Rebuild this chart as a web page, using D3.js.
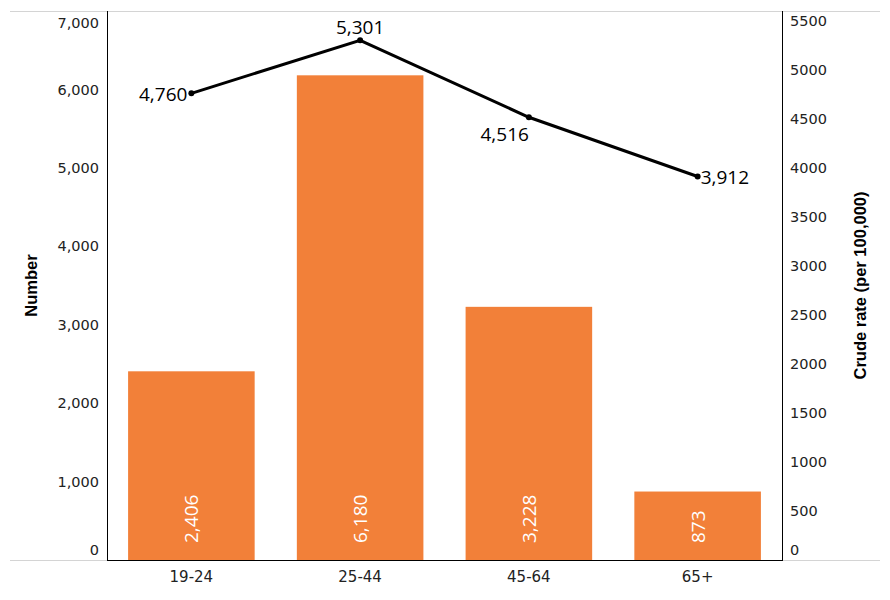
<!DOCTYPE html>
<html>
<head>
<meta charset="utf-8">
<script src="https://cdn.jsdelivr.net/npm/d3@7"></script>
<style>
  body { margin: 0; background: #fff; }
</style>
</head>
<body>
<div id="chart-area"></div>
<script>
const categories = ["19-24", "25-44", "45-64", "65+"];
const counts = [2406, 6180, 3228, 873];
const rates = [4760, 5301, 4516, 3912];
const countTicks = [0, 1000, 2000, 3000, 4000, 5000, 6000, 7000];
const rateTicks = [0, 500, 1000, 1500, 2000, 2500, 3000, 3500, 4000, 4500, 5000, 5500];
const countMax = 7000;
const rateMax = 5600;

const W = 890, H = 600;
const plot = { left: 107, right: 782, top: 11, bottom: 560 };

const data = categories.map((c, i) => ({ cat: c, count: counts[i], rate: rates[i] }));

const svg = d3.select("#chart-area")
    .append("svg")
    .attr("width", W)
    .attr("height", H);

const x = d3.scaleBand()
    .domain(categories)
    .range([plot.left, plot.right])
    .paddingInner(0.25)
    .paddingOuter(0.125);

const y = d3.scaleLinear()
    .domain([0, countMax])
    .range([plot.bottom, plot.top]);

const yR = d3.scaleLinear()
    .domain([0, rateMax])
    .range([plot.bottom, plot.top]);

// light frame lines
[plot.top, plot.bottom].forEach(v => {
    svg.append("line")
        .attr("x1", 10).attr("x2", 880)
        .attr("y1", v + 0.5).attr("y2", v + 0.5)
        .attr("stroke", "#d4d4d4");
});

// bars
svg.selectAll("rect.bar")
    .data(data)
    .enter()
    .append("rect")
    .attr("class", "bar")
    .attr("x", d => x(d.cat))
    .attr("y", d => y(d.count))
    .attr("width", x.bandwidth())
    .attr("height", d => plot.bottom - y(d.count))
    .attr("fill", "#f28039");

svg.selectAll("text.bar-label")
    .data(data)
    .enter()
    .append("text")
    .attr("class", "bar-label")
    .attr("transform", d => `translate(${x(d.cat) + x.bandwidth() / 2}, 543) rotate(-90)`)
    .attr("text-anchor", "start")
    .attr("dominant-baseline", "central")
    .attr("font-family", "'Open Sans', sans-serif")
    .attr("font-size", "19px")
    .attr("fill", "#fff")
    .text(d => d3.format(",")(d.count));

// axes
const yAxis = svg.append("g")
    .attr("transform", `translate(${plot.left}, 0)`)
    .call(d3.axisLeft(y).tickValues(countTicks).tickSize(0).tickPadding(8).tickFormat(d3.format(",")));
yAxis.select(".domain").remove();
yAxis.selectAll("text")
    .attr("font-family", "'DejaVu Sans', sans-serif")
    .attr("font-size", "14.5px")
    .attr("fill", "#222");
yAxis.selectAll(".tick").filter(d => d === countMax).select("text").attr("dy", "1.15em");
yAxis.selectAll(".tick").filter(d => d === 0).select("text").attr("dy", "-0.35em");

const yAxisR = svg.append("g")
    .attr("transform", `translate(${plot.right}, 0)`)
    .call(d3.axisRight(yR).tickValues(rateTicks).tickSize(0).tickPadding(8).tickFormat(d3.format("d")));
yAxisR.select(".domain").remove();
yAxisR.selectAll("text")
    .attr("font-family", "'DejaVu Sans', sans-serif")
    .attr("font-size", "14.5px")
    .attr("fill", "#222");
yAxisR.selectAll(".tick").filter(d => d === 0).select("text").attr("dy", "-0.35em");

const xAxis = svg.append("g")
    .attr("transform", `translate(0, ${plot.bottom})`)
    .call(d3.axisBottom(x).tickSize(0).tickPadding(11));
xAxis.select(".domain").remove();
xAxis.selectAll("text")
    .attr("font-family", "'DejaVu Sans', sans-serif")
    .attr("font-size", "15px")
    .attr("fill", "#222");

// axis lines
svg.append("line")
    .attr("x1", plot.left + 0.5).attr("x2", plot.left + 0.5)
    .attr("y1", plot.top).attr("y2", plot.bottom + 1)
    .attr("stroke", "#000");
svg.append("line")
    .attr("x1", plot.right + 0.5).attr("x2", plot.right + 0.5)
    .attr("y1", plot.top).attr("y2", plot.bottom + 1)
    .attr("stroke", "#000");
svg.append("line")
    .attr("x1", plot.left).attr("x2", plot.right + 1)
    .attr("y1", plot.bottom + 0.5).attr("y2", plot.bottom + 0.5)
    .attr("stroke", "#000");

// axis titles
svg.append("text")
    .attr("transform", `translate(37, ${(plot.top + plot.bottom) / 2}) rotate(-90)`)
    .attr("text-anchor", "middle")
    .attr("font-family", "'Liberation Sans Narrow', sans-serif")
    .attr("font-weight", "bold")
    .attr("font-size", "16.5px")
    .text("Number");

svg.append("text")
    .attr("transform", `translate(866, ${(plot.top + plot.bottom) / 2}) rotate(-90)`)
    .attr("text-anchor", "middle")
    .attr("font-family", "'Liberation Sans Narrow', sans-serif")
    .attr("font-weight", "bold")
    .attr("font-size", "16.5px")
    .text("Crude rate (per 100,000)");

// rate line
const line = d3.line()
    .x(d => x(d.cat) + x.bandwidth() / 2)
    .y(d => yR(d.rate));

svg.append("path")
    .datum(data)
    .attr("d", line)
    .attr("fill", "none")
    .attr("stroke", "#000")
    .attr("stroke-width", 3);

svg.selectAll("circle.pt")
    .data(data)
    .enter()
    .append("circle")
    .attr("class", "pt")
    .attr("cx", d => x(d.cat) + x.bandwidth() / 2)
    .attr("cy", d => yR(d.rate))
    .attr("r", 3)
    .attr("fill", "#000");

// label placement around each point: [dx, dy, anchor]
const labelPos = [[-4, 1, "end"], [0, -13, "middle"], [0, 17, "end"], [3, 1, "start"]];

svg.selectAll("text.rate-label")
    .data(data)
    .enter()
    .append("text")
    .attr("class", "rate-label")
    .attr("x", (d, i) => x(d.cat) + x.bandwidth() / 2 + labelPos[i][0])
    .attr("y", (d, i) => yR(d.rate) + labelPos[i][1])
    .attr("text-anchor", (d, i) => labelPos[i][2])
    .attr("dominant-baseline", "central")
    .attr("font-family", "'Open Sans', sans-serif")
    .attr("font-size", "19px")
    .attr("fill", "#000")
    .text(d => d3.format(",")(d.rate));
</script>
</body>
</html>
